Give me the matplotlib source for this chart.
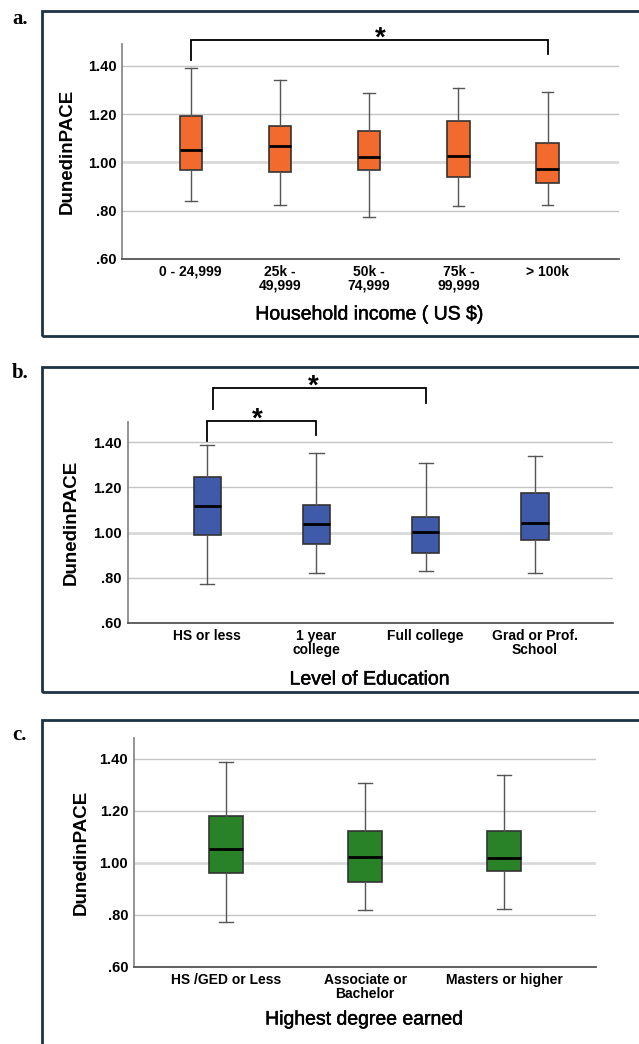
import matplotlib.pyplot as plt
import matplotlib.patheffects as pe
from matplotlib.patches import Rectangle
from matplotlib.ticker import FuncFormatter

plt.rcParams['font.family'] = ['Liberation Sans', 'DejaVu Sans']

# ---- data ----
income_labels = ['0 - 24,999', '25k -\n49,999', '50k -\n74,999', '75k -\n99,999', '> 100k']
income_hi = [1.389, 1.342, 1.287, 1.309, 1.291]
income_q3 = [1.191, 1.151, 1.128, 1.172, 1.082]
income_med = [1.051, 1.069, 1.023, 1.026, 0.973]
income_q1 = [0.968, 0.962, 0.968, 0.938, 0.916]
income_lo = [0.842, 0.824, 0.775, 0.820, 0.824]

edu_labels = ['HS or less', '1 year\ncollege', 'Full college', 'Grad or Prof.\nSchool']
edu_hi = [1.388, 1.353, 1.310, 1.338]
edu_q3 = [1.248, 1.124, 1.071, 1.176]
edu_med = [1.120, 1.038, 1.005, 1.045]
edu_q1 = [0.989, 0.949, 0.909, 0.967]
edu_lo = [0.772, 0.820, 0.830, 0.822]

deg_labels = ['HS /GED or Less', 'Associate or\nBachelor', 'Masters or higher']
deg_hi = [1.387, 1.307, 1.337]
deg_q3 = [1.182, 1.123, 1.123]
deg_med = [1.053, 1.022, 1.017]
deg_q1 = [0.960, 0.927, 0.967]
deg_lo = [0.772, 0.818, 0.822]

# significant pairs (group indices)
income_sig = [(0, 4)]
edu_sig = [(0, 1), (0, 2)]

W, H = 639, 1044
thick = [pe.withStroke(linewidth=0.35, foreground='black')]


def fig_rect(x0, y0, x1, y1):
    return [x0 / W, 1 - y1 / H, (x1 - x0) / W, (y1 - y0) / H]


def ytick_fmt(v, pos):
    s = '%.2f' % v
    return s[1:] if s.startswith('0') else s


def draw_panel(fig, rect, labels, lo, q1, med, q3, hi, color, xlim, ylim, cap_w):
    ax = fig.add_axes(rect)
    stats = []
    for lab, a, b, c, d, e in zip(labels, lo, q1, med, q3, hi):
        stats.append(dict(label=lab, whislo=a, q1=b, med=c, q3=d, whishi=e, fliers=[]))
    ax.bxp(stats, positions=list(range(len(stats))), widths=0.25, capwidths=cap_w,
           patch_artist=True, showfliers=False,
           boxprops=dict(facecolor=color, edgecolor='#333333', linewidth=1.2),
           medianprops=dict(color='black', linewidth=2),
           whiskerprops=dict(color='#555555', linewidth=1),
           capprops=dict(color='#555555', linewidth=1), zorder=3)
    ax.set_xlim(xlim)
    ax.set_ylim(ylim)
    ax.set_yticks([0.6, 0.8, 1.0, 1.2, 1.4])
    ax.yaxis.set_major_formatter(FuncFormatter(ytick_fmt))
    ax.set_xticks(list(range(len(labels))))
    ax.set_xticklabels(labels, fontsize=10, fontweight='bold', linespacing=1.0)
    for t in ax.get_yticklabels():
        t.set_fontsize(10.5)
        t.set_fontweight('bold')
    ax.tick_params(length=0, pad=4)
    ax.set_axisbelow(True)
    ax.yaxis.grid(True, color='#c4c4c4', linewidth=1)
    for gl, v in zip(ax.get_ygridlines(), ax.get_yticks()):
        if abs(v - 1.0) < 1e-6:
            gl.set_color('#d9d9d9')
            gl.set_linewidth(2)
    for s in ['top', 'right']:
        ax.spines[s].set_visible(False)
    ax.spines['left'].set_color('#8a8a8a')
    ax.spines['left'].set_linewidth(1.3)
    ax.spines['bottom'].set_color('#555555')
    ax.spines['bottom'].set_linewidth(1.3)
    return ax


def bracket(ax, x0, x1, top, end0, end1, star_x):
    ax.plot([x0, x0, x1, x1], [end0, top, top, end1], color='black', lw=1.3,
            clip_on=False, solid_joinstyle='miter')
    ax.annotate('*', xy=(star_x, top), xytext=(0, -4), textcoords='offset points',
                ha='center', va='baseline', fontsize=20, fontweight='bold',
                annotation_clip=False)


def frame(fig, x0, y0, x1, y1):
    fig.patches.append(Rectangle((x0 / W, 1 - y1 / H), (x1 - x0) / W, (y1 - y0) / H,
                                 transform=fig.transFigure, fill=False,
                                 edgecolor='#1d3344', linewidth=2))


fig = plt.figure(figsize=(6.39, 10.44), dpi=100)

# panel a
frame(fig, 42, 11, 680, 336)
ax_a = draw_panel(fig, fig_rect(122, 44, 619, 259), income_labels, income_lo, income_q1,
                  income_med, income_q3, income_hi, '#f26a2d', (-0.77, 4.8), (0.6, 1.49), 0.13)
i, j = income_sig[0]
bracket(ax_a, i, j, 1.507, 1.425, 1.449, 2.13)
fig.text(12 / W, 1 - 24 / H, 'a.', family='Liberation Serif', fontweight='bold', fontsize=15,
         va='baseline', ha='left')
fig.text(67 / W, 1 - 151 / H, 'DunedinPACE', rotation=90, fontsize=13.5, fontweight='bold',
         ha='center', va='center')
fig.text(370 / W, 1 - 315 / H, 'Household income ( US $)', fontsize=14, ha='center',
         va='center', path_effects=thick)

# panel b
frame(fig, 42, 367, 680, 692)
ax_b = draw_panel(fig, fig_rect(127.5, 422, 612.5, 623), edu_labels, edu_lo, edu_q1,
                  edu_med, edu_q3, edu_hi, '#3f5aa8', (-0.73, 3.71), (0.6, 1.49), 0.13)
i, j = edu_sig[0]
bracket(ax_b, i, j, 1.496, 1.407, 1.432, 0.455)
i, j = edu_sig[1]
bracket(ax_b, i + 0.05, j, 1.639, 1.547, 1.572, 0.97)
fig.text(12 / W, 1 - 378 / H, 'b.', family='Liberation Serif', fontweight='bold', fontsize=15,
         va='baseline', ha='left')
fig.text(71 / W, 1 - 522 / H, 'DunedinPACE', rotation=90, fontsize=13.5, fontweight='bold',
         ha='center', va='center')
fig.text(370 / W, 1 - 680 / H, 'Level of Education', fontsize=14, ha='center', va='center',
         path_effects=thick)

# panel c
frame(fig, 42, 720, 680, 1080)
ax_c = draw_panel(fig, fig_rect(133.7, 738, 595.8, 967), deg_labels, deg_lo, deg_q1,
                  deg_med, deg_q3, deg_hi, '#2a8228', (-0.665, 2.66), (0.6, 1.48), 0.1)
fig.text(12 / W, 1 - 740 / H, 'c.', family='Liberation Serif', fontweight='bold', fontsize=15,
         va='baseline', ha='left')
fig.text(81 / W, 1 - 852 / H, 'DunedinPACE', rotation=90, fontsize=13.5, fontweight='bold',
         ha='center', va='center')
fig.text(365 / W, 1 - 1020 / H, 'Highest degree earned', fontsize=14, ha='center',
         va='center', path_effects=thick)

fig.savefig('out.png', dpi=100)
